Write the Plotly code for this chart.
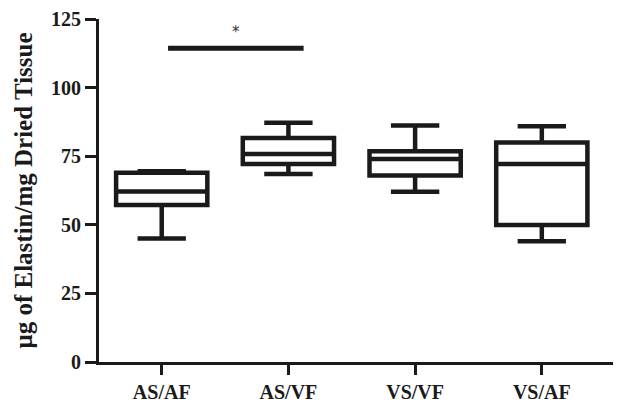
import plotly.graph_objects as go

categories = ["AS/AF", "AS/VF", "VS/VF", "VS/AF"]
lower_whisker = [45.0, 68.5, 62.0, 44.0]
q1_values = [57.2, 72.2, 68.0, 49.9]
median_values = [62.1, 75.8, 74.0, 72.2]
q3_values = [69.0, 81.6, 76.8, 80.0]
upper_whisker = [69.5, 87.2, 86.2, 85.9]
y_ticks = [0, 25, 50, 75, 100, 125]
sig_bar = {"x0": 0.05, "x1": 1.12, "y": 114.3, "label": "*"}

ink = "#1a1a1a"
fig = go.Figure()
positions = list(range(len(categories)))
fig.add_trace(go.Box(
    x=positions,
    q1=q1_values, median=median_values, q3=q3_values,
    lowerfence=lower_whisker, upperfence=upper_whisker,
    width=0.72, whiskerwidth=0.53,
    line=dict(color=ink, width=4.5),
    fillcolor="rgba(255,255,255,0)",
    boxpoints=False, showlegend=False, hoverinfo="skip",
))

fig.add_shape(type="line", xref="x", yref="y",
              x0=sig_bar["x0"], x1=sig_bar["x1"], y0=sig_bar["y"], y1=sig_bar["y"],
              line=dict(color=ink, width=5))
fig.add_annotation(x=(sig_bar["x0"] + sig_bar["x1"]) / 2, y=sig_bar["y"], yshift=16,
                   text=sig_bar["label"], showarrow=False,
                   font=dict(family="DejaVu Sans", size=15, color="#333333"))

serif = "Liberation Serif"
fig.update_layout(
    width=613, height=395,
    margin=dict(l=91, r=0, t=10, b=40),
    paper_bgcolor="white", plot_bgcolor="white",
    font=dict(family=serif, color=ink),
    xaxis=dict(
        range=[-0.495, 3.625],
        tickmode="array", tickvals=positions, ticktext=[f"<b>{c}</b>" for c in categories],
        showgrid=False, zeroline=False,
        showline=True, linecolor=ink, linewidth=3,
        ticks="outside", ticklen=10, tickwidth=3, tickcolor=ink,
        tickfont=dict(family=serif, size=20, color=ink),
        ticklabeloverflow="allow",
    ),
    yaxis=dict(
        range=[0, 125],
        tickmode="array", tickvals=y_ticks, ticktext=[f"<b>{v}</b>" for v in y_ticks],
        showgrid=False, zeroline=False,
        showline=True, linecolor=ink, linewidth=3,
        ticks="outside", ticklen=11, tickwidth=3, tickcolor=ink,
        tickfont=dict(family=serif, size=20, color=ink),
        ticklabeloverflow="allow",
        title=dict(text="<b>μg of Elastin/mg Dried Tissue</b>",
                   font=dict(family=serif, size=25, color=ink), standoff=12),
    ),
)

fig.write_html("out.html")
